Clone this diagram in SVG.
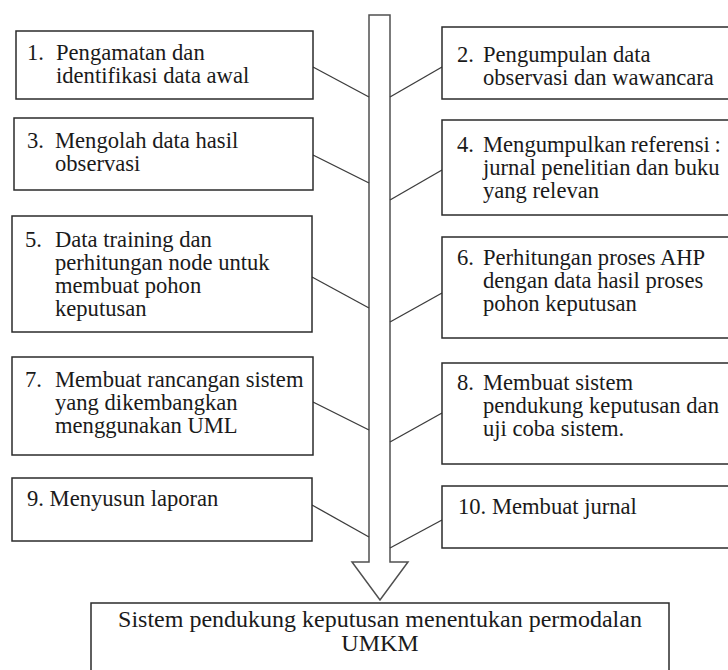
<svg xmlns="http://www.w3.org/2000/svg" width="728" height="670" viewBox="0 0 728 670">
  <style>
    .box { fill: #ffffff; stroke: #2b2b2b; stroke-width: 1.5; }
    .link { fill: none; stroke: #3c3c3c; stroke-width: 1.3; }
    .flow { fill: #ffffff; stroke: #505050; stroke-width: 1.5; stroke-linejoin: miter; }
    .c { text-anchor: middle; font-size: 24px; }
  </style>
  <rect width="728" height="670" fill="#ffffff"/>

  <!-- main downward flow arrow -->
  <g id="flow-arrow">
    <polygon class="flow" points="369,15 390,15 390,562 408,562 380,600 352,562 369,562"/>
  </g>

  <!-- connectors between step boxes and the flow arrow -->
  <g id="connectors">
    <line class="link" x1="313" y1="67" x2="369" y2="97"/>
    <line class="link" x1="313" y1="155" x2="369" y2="183"/>
    <line class="link" x1="312" y1="277" x2="369" y2="308"/>
    <line class="link" x1="313" y1="402" x2="369" y2="430"/>
    <line class="link" x1="312" y1="505" x2="369" y2="537"/>
    <line class="link" x1="390" y1="97" x2="442" y2="67"/>
    <line class="link" x1="390" y1="200" x2="442" y2="170"/>
    <line class="link" x1="390" y1="322" x2="442" y2="293"/>
    <line class="link" x1="390" y1="442" x2="442" y2="413"/>
    <line class="link" x1="390" y1="548" x2="442" y2="520"/>
  </g>

  <g font-family="Liberation Serif, Times New Roman, serif" font-size="22.6" fill="#1a1a1a">
  <g id="step1">
    <rect class="box" x="16" y="31" width="297" height="68"/>
    <text x="27" y="60">1.</text>
    <text x="56" y="60">Pengamatan dan</text>
    <text x="56" y="83">identifikasi data awal</text>
  </g>
  <g id="step2">
    <rect class="box" x="442" y="27" width="300" height="72"/>
    <text x="457" y="62">2.</text>
    <text x="483" y="62">Pengumpulan data</text>
    <text x="483" y="85">observasi dan wawancara</text>
  </g>
  <g id="step3">
    <rect class="box" x="14" y="118" width="299" height="72"/>
    <text x="27" y="148">3.</text>
    <text x="55" y="148">Mengolah data hasil</text>
    <text x="55" y="171">observasi</text>
  </g>
  <g id="step4">
    <rect class="box" x="442" y="120" width="300" height="95"/>
    <text x="457" y="152">4.</text>
    <text x="483" y="152" word-spacing="-1">Mengumpulkan referensi :</text>
    <text x="483" y="175">jurnal penelitian dan buku</text>
    <text x="483" y="198">yang relevan</text>
  </g>
  <g id="step5">
    <rect class="box" x="12" y="216" width="300" height="116"/>
    <text x="25" y="247">5.</text>
    <text x="55" y="247">Data training dan</text>
    <text x="55" y="270">perhitungan node untuk</text>
    <text x="55" y="293">membuat pohon</text>
    <text x="55" y="316">keputusan</text>
  </g>
  <g id="step6">
    <rect class="box" x="442" y="237" width="300" height="101"/>
    <text x="457" y="265">6.</text>
    <text x="483" y="265">Perhitungan proses AHP</text>
    <text x="483" y="288">dengan data hasil proses</text>
    <text x="483" y="311">pohon keputusan</text>
  </g>
  <g id="step7">
    <rect class="box" x="12" y="357" width="301" height="98"/>
    <text x="25" y="387">7.</text>
    <text x="55" y="387">Membuat rancangan sistem</text>
    <text x="55" y="410">yang dikembangkan</text>
    <text x="55" y="433">menggunakan UML</text>
  </g>
  <g id="step8">
    <rect class="box" x="442" y="363" width="300" height="101"/>
    <text x="457" y="390">8.</text>
    <text x="483" y="390">Membuat sistem</text>
    <text x="483" y="413">pendukung keputusan dan</text>
    <text x="483" y="436">uji coba sistem.</text>
  </g>
  <g id="step9">
    <rect class="box" x="12" y="478" width="300" height="63"/>
    <text x="27" y="506">9. Menyusun laporan</text>
  </g>
  <g id="step10">
    <rect class="box" x="442" y="486" width="300" height="62"/>
    <text x="458" y="514">10. Membuat jurnal</text>
  </g>
  <g id="result">
    <rect class="box" x="91" y="603" width="578" height="80"/>
    <text class="c" x="380" y="627">Sistem pendukung keputusan menentukan permodalan</text>
    <text class="c" x="380" y="651">UMKM</text>
  </g>
  </g>
</svg>
